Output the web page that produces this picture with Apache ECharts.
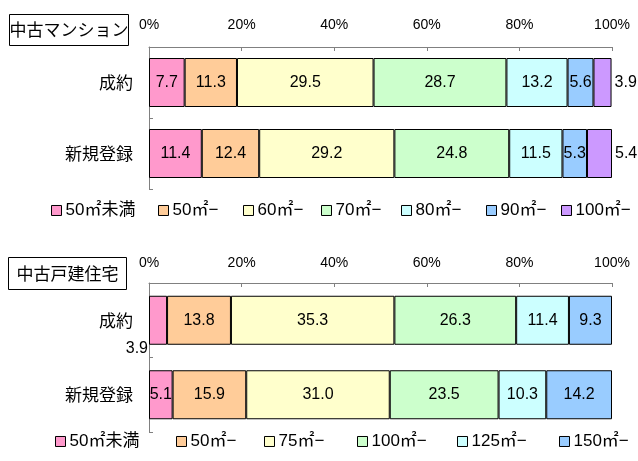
<!DOCTYPE html>
<html>
<head>
<meta charset="utf-8">
<script src="https://cdn.jsdelivr.net/npm/echarts@6/dist/echarts.min.js"></script>
<style>
  html, body { margin: 0; padding: 0; background: #fff; }
  #chart { width: 638px; height: 461px; }
</style>
</head>
<body>
<div id="chart"></div>
<script>
// Share of transactions by floor-area band (%)
const categories = ['成約', '新規登録'];

const condoBands = ['50㎡未満', '50㎡−', '60㎡−', '70㎡−', '80㎡−', '90㎡−', '100㎡−'];
const condoContract = [7.7, 11.3, 29.5, 28.7, 13.2, 5.6, 3.9];
const condoListing = [11.4, 12.4, 29.2, 24.8, 11.5, 5.3, 5.4];

const houseBands = ['50㎡未満', '50㎡−', '75㎡−', '100㎡−', '125㎡−', '150㎡−'];
const houseContract = [3.9, 13.8, 35.3, 26.3, 11.4, 9.3];
const houseListing = [5.1, 15.9, 31.0, 23.5, 10.3, 14.2];

const axisTicks = [0, 20, 40, 60, 80, 100];

const palette = ['#FF99CC', '#FFCC99', '#FFFFCC', '#CCFFCC', '#CCFFFF', '#99CCFF', '#CC99FF'];

// legend item left edges for each panel
const condoLegendLeft = [51, 158, 243, 321, 401, 486, 561];
const houseLegendLeft = [55, 176, 264, 357, 457, 559];

const txtFont = 'Liberation Sans, Noto Sans CJK JP, sans-serif';
const cjkFont = 'Noto Sans CJK JP, sans-serif';

function buildSeries(bands, rowA, rowB, axisIdx, stackName, labelRule) {
  return bands.map((name, i) => ({
    name: name,
    type: 'bar',
    stack: stackName,
    xAxisIndex: axisIdx,
    yAxisIndex: axisIdx,
    barWidth: 49,
    itemStyle: { color: palette[i], borderColor: '#000', borderWidth: 1 },
    label: {
      show: true,
      position: 'inside',
      color: '#000',
      fontFamily: txtFont,
      fontSize: 16,
      formatter: p => Number(p.value).toFixed(1)
    },
    data: [rowA[i], rowB[i]].map((v, j) => labelRule(i, j, v))
  }));
}

const condoSeries = buildSeries(condoBands, condoContract, condoListing, 0, 'condo',
  (i, j, v) => i === condoBands.length - 1
    ? { value: v, label: { position: 'right', distance: 3 } }
    : v);

const houseSeries = buildSeries(houseBands, houseContract, houseListing, 1, 'house',
  (i, j, v) => (i === 0 && j === 0)
    ? { value: v, label: { position: 'left', distance: 1, offset: [0, 28] } }
    : v);

function valueAxis(gridIndex, margin) {
  return {
    gridIndex: gridIndex,
    type: 'value',
    position: 'top',
    min: axisTicks[0],
    max: axisTicks[axisTicks.length - 1],
    interval: axisTicks[1] - axisTicks[0],
    axisLine: { show: true, lineStyle: { color: '#808080', width: 1 } },
    axisTick: { show: true, inside: true, length: 4, lineStyle: { color: '#808080' } },
    splitLine: { show: false },
    axisLabel: {
      margin: margin,
      color: '#000',
      fontFamily: txtFont,
      fontSize: 14,
      formatter: '{value}%'
    }
  };
}

function categoryAxis(gridIndex) {
  return {
    gridIndex: gridIndex,
    type: 'category',
    inverse: true,
    data: categories,
    axisLine: { show: true, lineStyle: { color: '#808080', width: 1 } },
    axisTick: { show: true, inside: true, length: 4, lineStyle: { color: '#808080' } },
    axisLabel: { margin: 16, color: '#000', fontFamily: cjkFont, fontSize: 17 }
  };
}

function legends(bands, lefts, top) {
  return bands.map((name, i) => ({
    left: lefts[i],
    top: top,
    padding: 0,
    icon: 'rect',
    itemWidth: 10,
    itemHeight: 10,
    itemGap: 0,
    selectedMode: false,
    textStyle: { color: '#000', fontFamily: txtFont, fontSize: 17, padding: [0, 0, 0, -1] },
    data: [{ name: name, itemStyle: { color: palette[i], borderColor: '#000', borderWidth: 1 } }]
  }));
}

function titleBox(x, y, w, h, text) {
  return {
    type: 'group',
    children: [
      { type: 'rect', shape: { x: x, y: y, width: w, height: h },
        style: { fill: '#fff', stroke: '#000', lineWidth: 1 } },
      { type: 'text', x: x + w / 2, y: y + h / 2,
        style: { text: text, fill: '#000', font: '17px ' + cjkFont, align: 'center', verticalAlign: 'middle' } }
    ]
  };
}

const chart = echarts.init(document.getElementById('chart'), null, { renderer: 'canvas' });
chart.setOption({
  animation: false,
  backgroundColor: '#fff',
  grid: [
    { left: 149, right: 26, top: 47, height: 142 },
    { left: 149, right: 26, top: 283, height: 149 }
  ],
  xAxis: [valueAxis(0, 15), valueAxis(1, 13)],
  yAxis: [categoryAxis(0), categoryAxis(1)],
  legend: legends(condoBands, condoLegendLeft, 202).concat(legends(houseBands, houseLegendLeft, 433)),
  graphic: [
    titleBox(9.5, 14.5, 119, 31, '中古マンション'),
    titleBox(8.5, 257.5, 118, 32, '中古戸建住宅')
  ],
  series: condoSeries.concat(houseSeries)
});
</script>
</body>
</html>
